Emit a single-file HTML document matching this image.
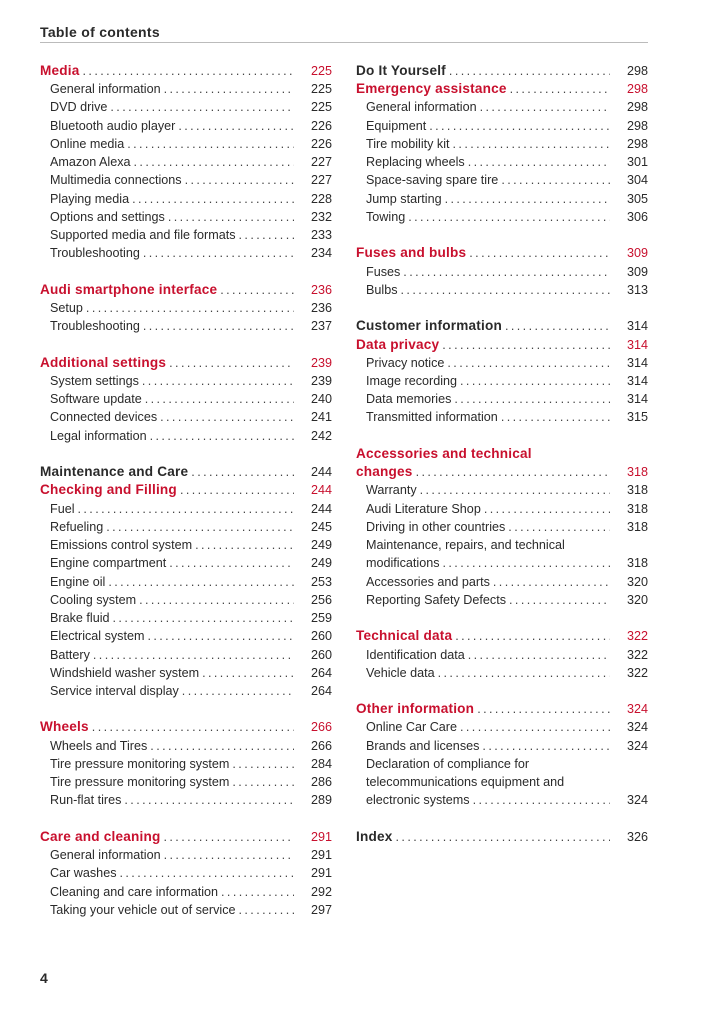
<!DOCTYPE html>
<html><head><meta charset="utf-8"><style>
body{margin:0;width:706px;height:1024px;background:#fff;position:relative;font-family:"Liberation Sans",sans-serif;color:#2a2a2a;overflow:hidden}
.title{position:absolute;left:40px;top:24px;font-weight:bold;font-size:14px;letter-spacing:0.3px}
.rule{position:absolute;left:40px;top:42px;width:608px;height:1px;background:#bbb}
.col{position:absolute;top:62px}
.r{height:18.24px;line-height:18.24px;font-size:12.6px;display:flex;white-space:nowrap}
.r .t{padding-left:10px}
.r .d{flex:1;overflow:hidden;padding-left:3px;letter-spacing:2.4px;color:#444;font-weight:normal;font-size:12.6px;margin-right:6px}
.r .d::before{content:"......................................................................................................................"}
.r .n{width:32px;text-align:right;font-weight:normal;font-size:12.6px}
.h{font-weight:bold;font-size:13.6px}
.h .t{padding-left:0;letter-spacing:0.2px}
.red .t,.red .n{color:#c8102e}
.page{position:absolute;left:40px;top:970px;font-weight:bold;font-size:14px}
</style></head><body>
<div class="title">Table of contents</div>
<div class="rule"></div>
<div class="col" style="left:40px;width:292px">
<div class="r h red"><span class="t">Media</span><span class="d"></span><span class="n">225</span></div>
<div class="r"><span class="t">General information</span><span class="d"></span><span class="n">225</span></div>
<div class="r"><span class="t">DVD drive</span><span class="d"></span><span class="n">225</span></div>
<div class="r"><span class="t">Bluetooth audio player</span><span class="d"></span><span class="n">226</span></div>
<div class="r"><span class="t">Online media</span><span class="d"></span><span class="n">226</span></div>
<div class="r"><span class="t">Amazon Alexa</span><span class="d"></span><span class="n">227</span></div>
<div class="r"><span class="t">Multimedia connections</span><span class="d"></span><span class="n">227</span></div>
<div class="r"><span class="t">Playing media</span><span class="d"></span><span class="n">228</span></div>
<div class="r"><span class="t">Options and settings</span><span class="d"></span><span class="n">232</span></div>
<div class="r"><span class="t">Supported media and file formats</span><span class="d"></span><span class="n">233</span></div>
<div class="r"><span class="t">Troubleshooting</span><span class="d"></span><span class="n">234</span></div>
<div class="r"></div>
<div class="r h red"><span class="t">Audi smartphone interface</span><span class="d"></span><span class="n">236</span></div>
<div class="r"><span class="t">Setup</span><span class="d"></span><span class="n">236</span></div>
<div class="r"><span class="t">Troubleshooting</span><span class="d"></span><span class="n">237</span></div>
<div class="r"></div>
<div class="r h red"><span class="t">Additional settings</span><span class="d"></span><span class="n">239</span></div>
<div class="r"><span class="t">System settings</span><span class="d"></span><span class="n">239</span></div>
<div class="r"><span class="t">Software update</span><span class="d"></span><span class="n">240</span></div>
<div class="r"><span class="t">Connected devices</span><span class="d"></span><span class="n">241</span></div>
<div class="r"><span class="t">Legal information</span><span class="d"></span><span class="n">242</span></div>
<div class="r"></div>
<div class="r h"><span class="t">Maintenance and Care</span><span class="d"></span><span class="n">244</span></div>
<div class="r h red"><span class="t">Checking and Filling</span><span class="d"></span><span class="n">244</span></div>
<div class="r"><span class="t">Fuel</span><span class="d"></span><span class="n">244</span></div>
<div class="r"><span class="t">Refueling</span><span class="d"></span><span class="n">245</span></div>
<div class="r"><span class="t">Emissions control system</span><span class="d"></span><span class="n">249</span></div>
<div class="r"><span class="t">Engine compartment</span><span class="d"></span><span class="n">249</span></div>
<div class="r"><span class="t">Engine oil</span><span class="d"></span><span class="n">253</span></div>
<div class="r"><span class="t">Cooling system</span><span class="d"></span><span class="n">256</span></div>
<div class="r"><span class="t">Brake fluid</span><span class="d"></span><span class="n">259</span></div>
<div class="r"><span class="t">Electrical system</span><span class="d"></span><span class="n">260</span></div>
<div class="r"><span class="t">Battery</span><span class="d"></span><span class="n">260</span></div>
<div class="r"><span class="t">Windshield washer system</span><span class="d"></span><span class="n">264</span></div>
<div class="r"><span class="t">Service interval display</span><span class="d"></span><span class="n">264</span></div>
<div class="r"></div>
<div class="r h red"><span class="t">Wheels</span><span class="d"></span><span class="n">266</span></div>
<div class="r"><span class="t">Wheels and Tires</span><span class="d"></span><span class="n">266</span></div>
<div class="r"><span class="t">Tire pressure monitoring system</span><span class="d"></span><span class="n">284</span></div>
<div class="r"><span class="t">Tire pressure monitoring system</span><span class="d"></span><span class="n">286</span></div>
<div class="r"><span class="t">Run-flat tires</span><span class="d"></span><span class="n">289</span></div>
<div class="r"></div>
<div class="r h red"><span class="t">Care and cleaning</span><span class="d"></span><span class="n">291</span></div>
<div class="r"><span class="t">General information</span><span class="d"></span><span class="n">291</span></div>
<div class="r"><span class="t">Car washes</span><span class="d"></span><span class="n">291</span></div>
<div class="r"><span class="t">Cleaning and care information</span><span class="d"></span><span class="n">292</span></div>
<div class="r"><span class="t">Taking your vehicle out of service</span><span class="d"></span><span class="n">297</span></div>
</div>
<div class="col" style="left:356px;width:292px">
<div class="r h"><span class="t">Do It Yourself</span><span class="d"></span><span class="n">298</span></div>
<div class="r h red"><span class="t">Emergency assistance</span><span class="d"></span><span class="n">298</span></div>
<div class="r"><span class="t">General information</span><span class="d"></span><span class="n">298</span></div>
<div class="r"><span class="t">Equipment</span><span class="d"></span><span class="n">298</span></div>
<div class="r"><span class="t">Tire mobility kit</span><span class="d"></span><span class="n">298</span></div>
<div class="r"><span class="t">Replacing wheels</span><span class="d"></span><span class="n">301</span></div>
<div class="r"><span class="t">Space-saving spare tire</span><span class="d"></span><span class="n">304</span></div>
<div class="r"><span class="t">Jump starting</span><span class="d"></span><span class="n">305</span></div>
<div class="r"><span class="t">Towing</span><span class="d"></span><span class="n">306</span></div>
<div class="r"></div>
<div class="r h red"><span class="t">Fuses and bulbs</span><span class="d"></span><span class="n">309</span></div>
<div class="r"><span class="t">Fuses</span><span class="d"></span><span class="n">309</span></div>
<div class="r"><span class="t">Bulbs</span><span class="d"></span><span class="n">313</span></div>
<div class="r"></div>
<div class="r h"><span class="t">Customer information</span><span class="d"></span><span class="n">314</span></div>
<div class="r h red"><span class="t">Data privacy</span><span class="d"></span><span class="n">314</span></div>
<div class="r"><span class="t">Privacy notice</span><span class="d"></span><span class="n">314</span></div>
<div class="r"><span class="t">Image recording</span><span class="d"></span><span class="n">314</span></div>
<div class="r"><span class="t">Data memories</span><span class="d"></span><span class="n">314</span></div>
<div class="r"><span class="t">Transmitted information</span><span class="d"></span><span class="n">315</span></div>
<div class="r"></div>
<div class="r h red"><span class="t">Accessories and technical</span></div>
<div class="r h red"><span class="t">changes</span><span class="d"></span><span class="n">318</span></div>
<div class="r"><span class="t">Warranty</span><span class="d"></span><span class="n">318</span></div>
<div class="r"><span class="t">Audi Literature Shop</span><span class="d"></span><span class="n">318</span></div>
<div class="r"><span class="t">Driving in other countries</span><span class="d"></span><span class="n">318</span></div>
<div class="r"><span class="t">Maintenance, repairs, and technical</span></div>
<div class="r"><span class="t">modifications</span><span class="d"></span><span class="n">318</span></div>
<div class="r"><span class="t">Accessories and parts</span><span class="d"></span><span class="n">320</span></div>
<div class="r"><span class="t">Reporting Safety Defects</span><span class="d"></span><span class="n">320</span></div>
<div class="r"></div>
<div class="r h red"><span class="t">Technical data</span><span class="d"></span><span class="n">322</span></div>
<div class="r"><span class="t">Identification data</span><span class="d"></span><span class="n">322</span></div>
<div class="r"><span class="t">Vehicle data</span><span class="d"></span><span class="n">322</span></div>
<div class="r"></div>
<div class="r h red"><span class="t">Other information</span><span class="d"></span><span class="n">324</span></div>
<div class="r"><span class="t">Online Car Care</span><span class="d"></span><span class="n">324</span></div>
<div class="r"><span class="t">Brands and licenses</span><span class="d"></span><span class="n">324</span></div>
<div class="r"><span class="t">Declaration of compliance for</span></div>
<div class="r"><span class="t">telecommunications equipment and</span></div>
<div class="r"><span class="t">electronic systems</span><span class="d"></span><span class="n">324</span></div>
<div class="r"></div>
<div class="r h"><span class="t">Index</span><span class="d"></span><span class="n">326</span></div>
</div>
<div class="page">4</div>
</body></html>
